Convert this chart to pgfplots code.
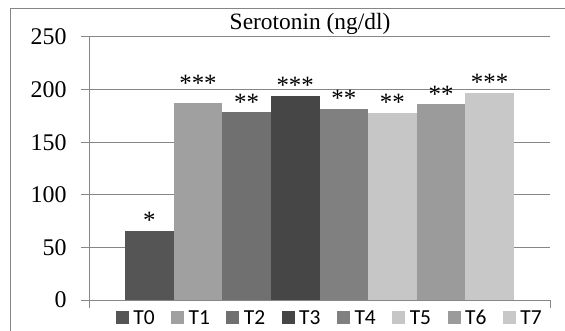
\documentclass[border=0pt]{standalone}
\usepackage{pgfplots}
\pgfplotsset{compat=1.18}
\usepackage{fontspec}
\setmainfont{Liberation Serif}
\newfontfamily\legfont{Carlito}
\newcommand\legsize{\legfont\fontsize{21.5}{24}\selectfont}
\definecolor{framecol}{RGB}{134,134,134}
\definecolor{c0}{RGB}{85,85,85}
\definecolor{c1}{RGB}{160,160,160}
\definecolor{c2}{RGB}{112,112,112}
\definecolor{c3}{RGB}{70,70,70}
\definecolor{c4}{RGB}{128,128,128}
\definecolor{c5}{RGB}{198,198,198}
\definecolor{c6}{RGB}{155,155,155}
\definecolor{c7}{RGB}{200,200,200}
\begin{document}
\begin{tikzpicture}
\useasboundingbox (0,0) rectangle (565bp,331bp);
\draw[framecol, line width=1bp] (10.5bp,-2bp) -- (10.5bp,322.5bp) -- (567bp,322.5bp);
\begin{axis}[
  at={(89bp,31bp)}, anchor=south west,
  scale only axis, width=461bp, height=263bp,
  ybar=0pt, bar width=48.6bp,
  xmin=0, xmax=1, ymin=0, ymax=250,
  xtick={0,1}, xticklabels={,},
  ytick={0,50,100,150,200,250},
  axis lines=left,
  axis line style={-, framecol, line width=1bp},
  tick align=outside,
  major tick length=8bp,
  tick style={framecol, line width=1bp},
  ymajorgrids,
  grid style={framecol, line width=1bp},
  /pgf/number format/assume math mode=true,
  yticklabel style={font=\fontsize{24}{28}\selectfont, xshift=-11bp},
  title={Serotonin (ng/dl)},
  title style={at={(0.4795,1)}, anchor=base, yshift=2bp, inner sep=0pt, font=\fontsize{23.5}{27}\selectfont},
  legend columns=8,
  legend style={draw=none, fill=none, at={(0.525,-0.0684)}, anchor=center,
    nodes={inner ysep=2bp, inner xsep=4.5bp, font=\legsize},
    /tikz/every even column/.append style={column sep=12bp}},
  legend image code/.code={\fill[#1] (0bp,-6.5bp) rectangle (13bp,6.5bp);},
  nodes near coords style={anchor=base, yshift=2bp, font=\fontsize{25}{28}\selectfont},
  every axis plot/.append style={draw=none},
]
\addplot[fill=c0, nodes near coords={*}] coordinates {(0.5,65.6)};
\addplot[fill=c1, nodes near coords={***}, nodes near coords style={yshift=9bp}] coordinates {(0.5,187.3)};
\addplot[fill=c2, nodes near coords={**}] coordinates {(0.5,178.7)};
\addplot[fill=c3, nodes near coords={***}] coordinates {(0.5,194.0)};
\addplot[fill=c4, nodes near coords={**}] coordinates {(0.5,181.6)};
\addplot[fill=c5, nodes near coords={**}] coordinates {(0.5,177.8)};
\addplot[fill=c6, nodes near coords={**}] coordinates {(0.5,186.3)};
\addplot[fill=c7, nodes near coords={***}] coordinates {(0.5,196.8)};
\legend{T0,T1,T2,T3,T4,T5,T6,T7}
\end{axis}
\end{tikzpicture}
\end{document}
